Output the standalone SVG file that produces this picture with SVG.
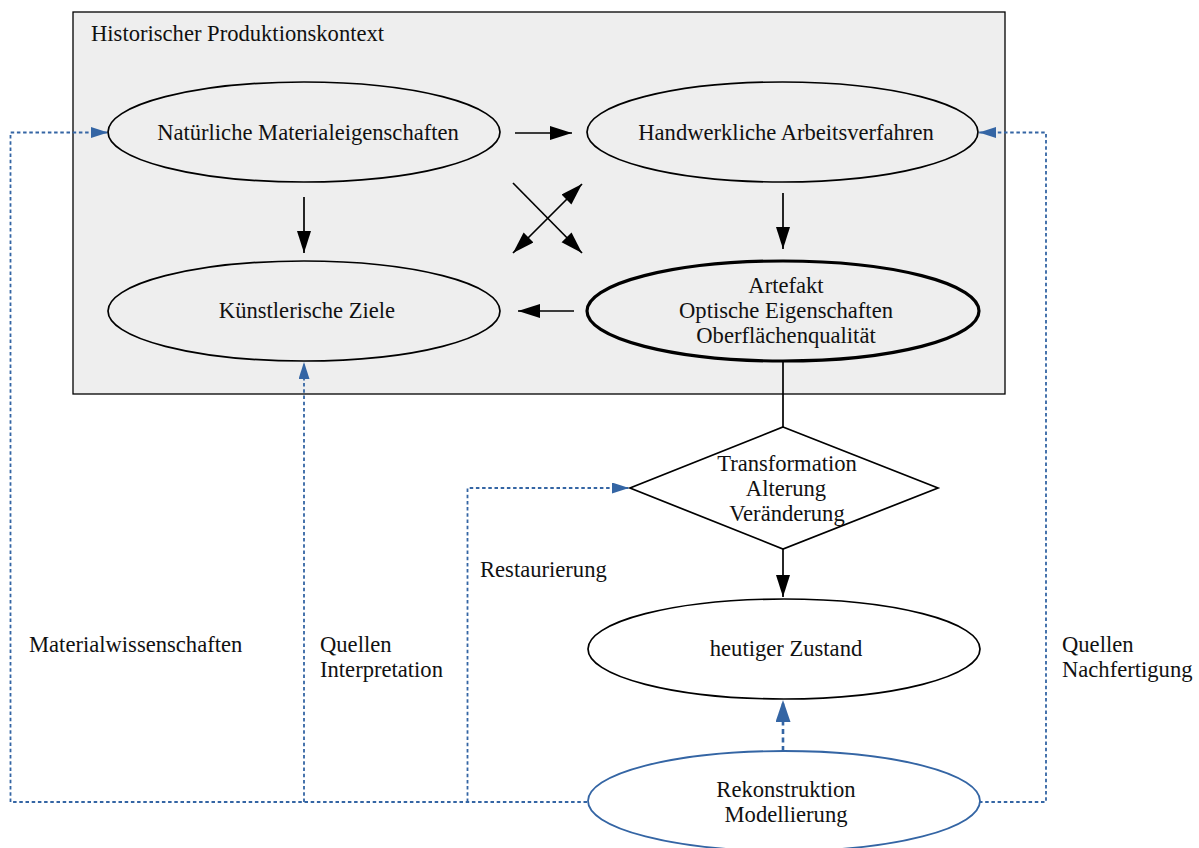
<svg xmlns="http://www.w3.org/2000/svg" width="1199" height="848" viewBox="0 0 1199 848">
<style>
text{font-family:"Liberation Serif","Times New Roman",serif;font-size:22.6px;fill:#111}
.c{text-anchor:middle}
.n{fill:#eeeeee;stroke:#000;stroke-width:1.7}
.w{fill:#fff;stroke:#000;stroke-width:1.7}
.k{stroke:#000;stroke-width:1.7;fill:none}
.b{stroke:#3465a4;stroke-width:1.8;fill:none;stroke-dasharray:3.5,2.7}
</style>
<defs>
<marker id="ah" markerUnits="userSpaceOnUse" markerWidth="24" markerHeight="16" refX="22" refY="7" orient="auto-start-reverse" viewBox="0 0 24 16">
<path d="M0,0 L22,7 L0,14 z" fill="#000"/>
</marker>
<marker id="bh" markerUnits="userSpaceOnUse" markerWidth="18" markerHeight="12" refX="17" refY="5.5" orient="auto" viewBox="0 0 18 12">
<path d="M0,0 L17,5.5 L0,11 z" fill="#3465a4"/>
</marker>
<marker id="bh2" markerUnits="userSpaceOnUse" markerWidth="24" markerHeight="16" refX="22" refY="7.5" orient="auto" viewBox="0 0 24 16">
<path d="M0,0 L22,7.5 L0,15 z" fill="#3465a4"/>
</marker>
</defs>
<rect width="1199" height="848" fill="#fff"/>
<g id="context">
<rect x="73" y="12" width="932" height="382" fill="#eeeeee" stroke="#000" stroke-width="1.3"/>
<text x="91" y="41">Historischer Produktionskontext</text>
</g>
<g id="connectors">
<line class="k" x1="515" y1="133" x2="572" y2="133" marker-end="url(#ah)"/>
<line class="k" x1="304" y1="197" x2="304" y2="253" marker-end="url(#ah)"/>
<line class="k" x1="783" y1="193" x2="783" y2="249" marker-end="url(#ah)"/>
<line class="k" x1="574" y1="311" x2="518" y2="311" marker-end="url(#ah)"/>
<line class="k" x1="513" y1="183" x2="582" y2="253" marker-end="url(#ah)"/>
<line class="k" x1="513" y1="253" x2="582" y2="184" marker-start="url(#ah)" marker-end="url(#ah)"/>
<line class="k" x1="783" y1="361" x2="783" y2="427"/>
<line class="k" x1="783" y1="549" x2="783" y2="597" marker-end="url(#ah)"/>
<line x1="783" y1="751" x2="783" y2="700" stroke="#3465a4" stroke-width="2.6" stroke-dasharray="5,3.5" marker-end="url(#bh2)"/>
<path class="b" d="M587,802 H10.5 V132.5 H108" marker-end="url(#bh)"/>
<path class="b" d="M304,802 V362" marker-end="url(#bh)"/>
<path class="b" d="M467.5,802 V488 H629" marker-end="url(#bh)"/>
<path class="b" d="M979,802 H1046 V132.5 H979" marker-end="url(#bh)"/>
</g>
<g id="natuerliche">
<ellipse class="n" cx="304" cy="132" rx="196" ry="50"/>
<text class="c" x="308" y="140">Natürliche Materialeigenschaften</text>
</g>
<g id="handwerkliche">
<ellipse class="n" cx="782.5" cy="132" rx="195.5" ry="50"/>
<text class="c" x="786" y="140">Handwerkliche Arbeitsverfahren</text>
</g>
<g id="kuenstlerische">
<ellipse class="n" cx="304" cy="311" rx="196" ry="50"/>
<text class="c" x="307" y="318">Künstlerische Ziele</text>
</g>
<g id="artefakt">
<ellipse cx="783" cy="311" rx="196" ry="50" fill="#eeeeee" stroke="#000" stroke-width="3.2"/>
<text class="c" x="786" y="293">Artefakt</text>
<text class="c" x="786" y="318">Optische Eigenschaften</text>
<text class="c" x="786" y="343">Oberflächenqualität</text>
</g>
<g id="transformation">
<polygon class="w" points="783,427 938,488 783,549 630,488"/>
<text class="c" x="787" y="471">Transformation</text>
<text class="c" x="786" y="496">Alterung</text>
<text class="c" x="787" y="521">Veränderung</text>
</g>
<g id="zustand">
<ellipse class="w" cx="784" cy="649" rx="196" ry="50"/>
<text class="c" x="786" y="656">heutiger Zustand</text>
</g>
<g id="rekonstruktion">
<ellipse cx="784" cy="801" rx="196" ry="50" fill="#fff" stroke="#3465a4" stroke-width="1.8"/>
<text class="c" x="786" y="797">Rekonstruktion</text>
<text class="c" x="786" y="822">Modellierung</text>
</g>
<g id="labels">
<text x="29" y="652">Materialwissenschaften</text>
<text x="320" y="652">Quellen</text>
<text x="320" y="677">Interpretation</text>
<text x="480" y="577">Restaurierung</text>
<text x="1062" y="652">Quellen</text>
<text x="1062" y="677">Nachfertigung</text>
</g>
</svg>
